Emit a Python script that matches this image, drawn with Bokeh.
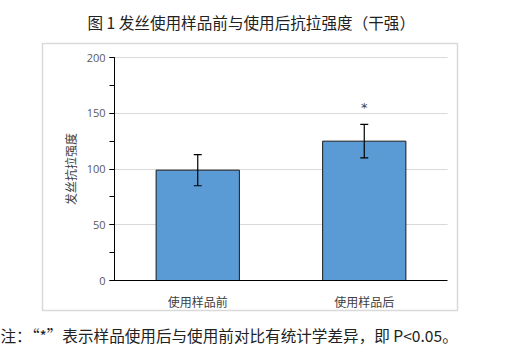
from bokeh.plotting import figure
from bokeh.models import (ColumnDataSource, Range1d, Whisker, TeeHead, Title, Grid,
                          LinearAxis, FixedTicker, SingleIntervalTicker)
from bokeh.core.properties import value
from bokeh.embed import file_html
from bokeh.resources import INLINE

categories = ["使用样品前", "使用样品后"]
means = [99, 125]
errors = [14, 15]
marks = ["", "*"]
title_text = "图 1 发丝使用样品前与使用后抗拉强度（干强）"
note_text = "注：“*”表示样品使用后与使用前对比有统计学差异，即 P<0.05。"
y_label = "发丝抗拉强度"

n = len(categories)
xpos = [i + 0.5 for i in range(n)]
upper = [m + e for m, e in zip(means, errors)]
lower = [m - e for m, e in zip(means, errors)]
star_y = [u + 15 for u in upper]

src = ColumnDataSource(dict(x=xpos, mean=means, upper=upper, lower=lower,
                            mark=marks, star_y=star_y))

CJK = "Noto Sans CJK SC"

# frame = outer light-gray chart box; inner plot area is x 0..n, y 0..200
p = figure(width=531, height=354,
           x_range=Range1d(-0.4324, n + 0.060), y_range=Range1d(-26.9, 212.6),
           output_backend="svg", toolbar_location=None,
           x_axis_location=None, y_axis_location=None,
           min_border_left=42, min_border_right=74, min_border_top=43, min_border_bottom=44)
p.outline_line_color = "#d9d9d9"
p.outline_line_width = 1.5
p.background_fill_color = "white"
p.border_fill_color = "white"
p.xgrid.visible = False
p.ygrid.visible = False

p.vbar(x="x", top="mean", width=0.5, source=src, fill_color="#5B9BD5",
       line_color="#1a1a1a", line_width=1)

w = Whisker(base="x", upper="upper", lower="lower", source=src, line_color="black",
            line_width=1.2, level="annotation")
w.upper_head = TeeHead(size=8, line_color="black", line_width=1.2)
w.lower_head = TeeHead(size=8, line_color="black", line_width=1.2)
p.add_layout(w)

p.text(x="x", y="star_y", text="mark", source=src, text_align="center",
       text_baseline="middle", text_font_size="13px", text_color="#404040",
       text_font=value("DejaVu Sans"))

# y axis at x = 0
yax = LinearAxis(fixed_location=0, bounds=(0, 200),
                 ticker=SingleIntervalTicker(interval=50, num_minor_ticks=2))
yax.axis_line_color = "black"
yax.major_tick_line_color = "black"
yax.minor_tick_line_color = "black"
yax.major_tick_in = 0
yax.major_tick_out = 5
yax.minor_tick_in = 0
yax.minor_tick_out = 5
yax.major_label_text_font = "Open Sans"
yax.major_label_text_font_size = "11px"
yax.major_label_text_color = "#595959"
yax.major_label_standoff = 4
yax.axis_label = y_label
yax.axis_label_text_font = CJK
yax.axis_label_text_font_size = "12px"
yax.axis_label_text_font_style = "normal"
yax.axis_label_text_color = "#404040"
yax.axis_label_standoff = 5
p.add_layout(yax, "left")

# x axis at y = 0
xax = LinearAxis(fixed_location=0, bounds=(0, n), ticker=FixedTicker(ticks=xpos),
                 major_label_overrides={x: c for x, c in zip(xpos, categories)})
xax.axis_line_color = "black"
xax.major_tick_line_color = None
xax.minor_tick_line_color = None
xax.major_label_text_font = CJK
xax.major_label_text_font_size = "12px"
xax.major_label_text_color = "#404040"
xax.major_label_standoff = 6
p.add_layout(xax, "below")

# horizontal gridlines only over the inner plot area
g = Grid(dimension=1, ticker=yax.ticker, bounds=(50, 200), cross_bounds=(0, n),
         grid_line_color="#d9d9d9", grid_line_width=1)
p.add_layout(g)

# white spacers (nearest the box) keep the title / note away from the chart box
p.add_layout(Title(text=".", standoff=5, text_font_size="6px", text_color="white"), "above")
p.add_layout(Title(text=title_text, align="left", offset=45, standoff=0,
                   vertical_align="bottom",
                   text_font=CJK, text_font_size="15.6px", text_font_style="normal",
                   text_color="#222222"), "above")
p.add_layout(Title(text=".", standoff=7, text_font_size="6px", text_color="white"), "below")
p.add_layout(Title(text=note_text, align="left", offset=-42, standoff=0,
                   vertical_align="top",
                   text_font=CJK, text_font_size="15.6px", text_font_style="normal",
                   text_color="#222222"), "below")

open("out.html", "w").write(file_html(p, INLINE))
